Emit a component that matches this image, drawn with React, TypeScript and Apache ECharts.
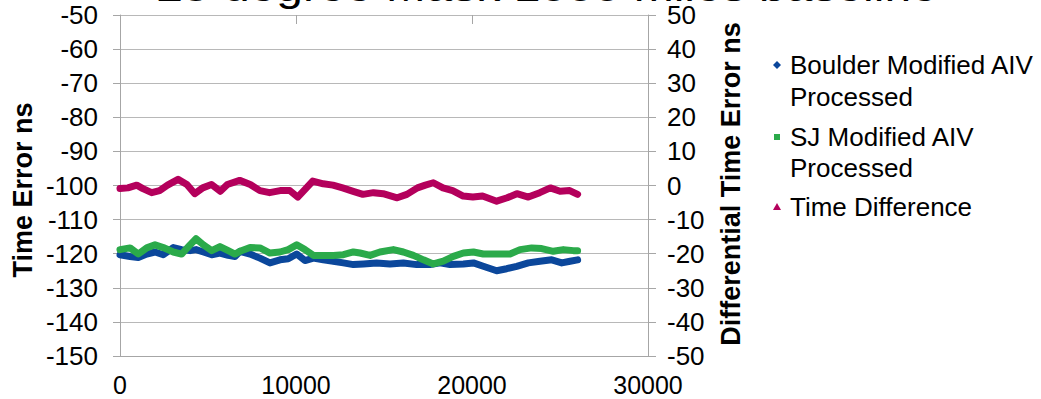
import React, { useEffect, useRef } from "react";
import * as echarts from "echarts";

const TITLE = "25 degree Mask 1000 miles baseline";
const LEFT_NAME = "Time Error ns";
const RIGHT_NAME = "Differential Time Error ns";
const SERIES_NAMES = ["Boulder Modified AIV Processed", "SJ Modified AIV Processed", "Time Difference"];

const boulderX = [0, 570, 1040, 1520, 1990, 2460, 3030, 3500, 3980, 4320, 4740, 5210, 5680, 6150, 6530, 6820, 7390, 7950, 8520, 9090, 9560, 10040, 10510, 10990, 11550, 12120, 12690, 13260, 13830, 14580, 15340, 16100, 16860, 17610, 18180, 18750, 19510, 20080, 20640, 21400, 21970, 22540, 23200, 23860, 24530, 25100, 25570, 26000];
const boulderY = [-120.3, -120.8, -121.1, -120.1, -119.5, -120.3, -118.2, -118.8, -119.1, -118.8, -119.5, -120.3, -119.8, -120.5, -120.8, -119.3, -120.1, -121.3, -122.7, -121.8, -121.5, -120.1, -122.0, -121.3, -121.8, -122.2, -122.7, -123.2, -123.0, -122.7, -123.0, -122.7, -123.2, -123.2, -122.7, -123.2, -123.0, -122.7, -123.7, -125.0, -124.4, -123.7, -122.7, -122.2, -121.8, -122.7, -122.2, -121.8];

const sjX = [0, 570, 1040, 1520, 1990, 2460, 3030, 3500, 3980, 4320, 4740, 5210, 5680, 6150, 6530, 6820, 7390, 7950, 8520, 9090, 9560, 10040, 10510, 10990, 11550, 12120, 12690, 13260, 13640, 14210, 14770, 15530, 16100, 16670, 17240, 17800, 18370, 18940, 19510, 20080, 20640, 21400, 22160, 22730, 23390, 23960, 24620, 25190, 25760, 26000];
const sjY = [-118.8, -118.3, -120.1, -118.3, -117.4, -118.2, -119.5, -120.1, -117.4, -115.6, -117.4, -119.1, -117.9, -119.1, -120.1, -119.3, -118.2, -118.3, -119.8, -119.5, -118.8, -117.4, -118.8, -120.5, -120.5, -120.5, -120.3, -119.5, -119.8, -120.5, -119.5, -118.8, -119.5, -120.5, -121.8, -123.0, -122.2, -120.8, -119.8, -119.5, -120.1, -120.1, -120.1, -118.8, -118.3, -118.5, -119.3, -118.8, -119.1, -119.1];

const diffX = [0, 450, 950, 1300, 1800, 2250, 2700, 3300, 3800, 4250, 4700, 5200, 5700, 6100, 6800, 7400, 7950, 8500, 9100, 9650, 10100, 10500, 10950, 11550, 12100, 12650, 13250, 13800, 14400, 14950, 15750, 16300, 16900, 17350, 17800, 18350, 18900, 19500, 20050, 20600, 21400, 22000, 22550, 23200, 23850, 24450, 25000, 25550, 26000];
const diffY = [-0.9, -0.7, 0.1, -0.9, -2.1, -1.5, 0.1, 1.8, 0.3, -2.4, -0.7, 0.3, -1.7, 0.3, 1.5, 0.3, -1.5, -2.1, -1.5, -1.5, -3.4, -1.2, 1.3, 0.5, 0.1, -0.7, -1.7, -2.6, -2.1, -2.4, -3.6, -2.6, -0.7, 0.1, 0.8, -0.7, -1.5, -3.1, -3.4, -3.1, -4.6, -3.6, -2.4, -3.4, -2.1, -0.7, -1.7, -1.5, -2.6];

const X_MIN = 0, X_MAX = 30000, X_STEP = 10000;
const L_MIN = -150, L_MAX = -50, R_MIN = -50, R_MAX = 50, Y_STEP = 10;

const COLORS = ["#0b479b", "#2baa4a", "#b4005c"];
const FONT = "'Liberation Sans', Arial, sans-serif";
const GRAY = "#a6a6a6";

const pairs = (xs: number[], ys: number[]) => xs.map((x, i) => [x, ys[i]]);

export default function App() {
  const ref = useRef<HTMLDivElement>(null);
  useEffect(() => {
    document.body.style.margin = "0";
    const chart = echarts.init(ref.current!, null, { renderer: "svg" });
    const axisLabel = { fontSize: 26, color: "#000", fontFamily: FONT };
    chart.setOption({
      animation: false,
      backgroundColor: "#fff",
      grid: { left: 120, right: 393, top: 15, bottom: 43, containLabel: false },
      xAxis: [
        {
          type: "value", min: X_MIN, max: X_MAX, interval: X_STEP, position: "bottom",
          axisLine: { show: true, onZero: false, lineStyle: { color: GRAY, width: 1 } },
          axisTick: { show: false },
          splitLine: { show: false },
          axisLabel: { ...axisLabel, fontSize: 25, margin: 16, formatter: (v: number) => String(v) },
        },
        {
          type: "value", min: X_MIN, max: X_MAX, interval: X_STEP, position: "top",
          axisLine: { show: false, onZero: false },
          axisTick: { show: true, inside: true, length: 9, lineStyle: { color: GRAY } },
          splitLine: { show: false },
          axisLabel: { show: false },
        },
      ],
      yAxis: [
        {
          type: "value", min: L_MIN, max: L_MAX, interval: Y_STEP, position: "left",
          axisLine: { show: true, onZero: false, lineStyle: { color: GRAY, width: 1 } },
          axisTick: { show: true, length: 7, lineStyle: { color: GRAY } },
          splitLine: { show: true, lineStyle: { color: "#b8b8b8", width: 1 } },
          axisLabel: { ...axisLabel, margin: 22 },
        },
        {
          type: "value", min: R_MIN, max: R_MAX, interval: Y_STEP, position: "right",
          axisLine: { show: true, onZero: false, lineStyle: { color: GRAY, width: 1 } },
          axisTick: { show: true, length: 8, lineStyle: { color: GRAY } },
          splitLine: { show: false },
          axisLabel: { ...axisLabel, margin: 19 },
        },
      ],
      series: [
        { name: SERIES_NAMES[0], type: "line", data: pairs(boulderX, boulderY), yAxisIndex: 0, showSymbol: false, lineStyle: { width: 7, color: COLORS[0], join: "round", cap: "round" }, itemStyle: { color: COLORS[0] }, z: 2 },
        { name: SERIES_NAMES[1], type: "line", data: pairs(sjX, sjY), yAxisIndex: 0, showSymbol: false, lineStyle: { width: 7, color: COLORS[1], join: "round", cap: "round" }, itemStyle: { color: COLORS[1] }, z: 3 },
        { name: SERIES_NAMES[2], type: "line", data: pairs(diffX, diffY), yAxisIndex: 1, showSymbol: false, lineStyle: { width: 7, color: COLORS[2], join: "round", cap: "round" }, itemStyle: { color: COLORS[2] }, z: 4 },
      ],
      graphic: [
        { type: "text", x: 547, y: -13, scaleX: 1.2, style: { text: TITLE, font: `40px ${FONT}`, fill: "#000", align: "center", verticalAlign: "middle" } },
        { type: "text", x: 23, y: 190, rotation: Math.PI / 2, style: { text: LEFT_NAME, font: `bold 27px ${FONT}`, fill: "#000", align: "center", verticalAlign: "middle" } },
        { type: "text", x: 731, y: 184, rotation: Math.PI / 2, style: { text: RIGHT_NAME, font: `bold 27px ${FONT}`, fill: "#000", align: "center", verticalAlign: "middle" } },
        { type: "polygon", shape: { points: [[777, 61], [781, 65], [777, 69], [773, 65]] }, style: { fill: COLORS[0] } },
        { type: "text", x: 790, y: 65, style: { text: "Boulder Modified AIV", font: `26px ${FONT}`, fill: "#000", verticalAlign: "middle" } },
        { type: "text", x: 790, y: 97, style: { text: "Processed", font: `26px ${FONT}`, fill: "#000", verticalAlign: "middle" } },
        { type: "rect", shape: { x: 774, y: 134, width: 6, height: 6 }, style: { fill: COLORS[1] } },
        { type: "text", x: 790, y: 137, style: { text: "SJ Modified AIV", font: `26px ${FONT}`, fill: "#000", verticalAlign: "middle" } },
        { type: "text", x: 790, y: 168, style: { text: "Processed", font: `26px ${FONT}`, fill: "#000", verticalAlign: "middle" } },
        { type: "polygon", shape: { points: [[777, 203], [781, 210], [773, 210]] }, style: { fill: COLORS[2] } },
        { type: "text", x: 790, y: 207, style: { text: "Time Difference", font: `26px ${FONT}`, fill: "#000", verticalAlign: "middle" } },
      ],
    });
    return () => chart.dispose();
  }, []);
  return <div ref={ref} style={{ width: 1041, height: 399 }} />;
}
